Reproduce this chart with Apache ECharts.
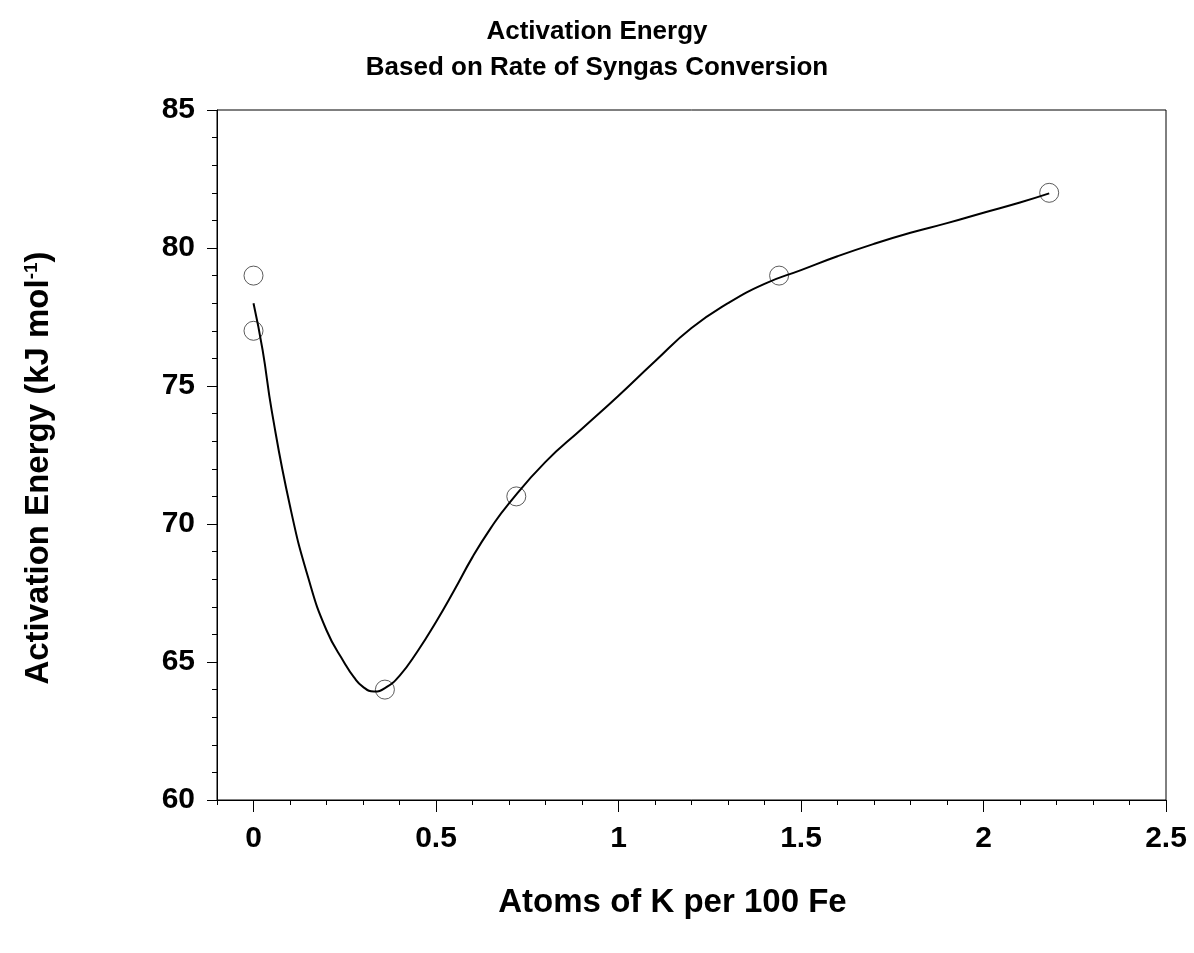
<!DOCTYPE html>
<html>
<head>
<meta charset="utf-8">
<title>Activation Energy</title>
<script src="https://cdn.jsdelivr.net/npm/echarts@6/dist/echarts.min.js"></script>
<style>
  html, body { margin: 0; background: #fff; }
  #main { width: 1194px; height: 953px; }
</style>
</head>
<body>
<div id="main"></div>
<script>
// measured points (open circles)
var pointX = [0, 0, 0.36, 0.72, 1.44, 2.18]
var pointY = [79, 77, 64, 71, 79, 82]

// fitted curve
var curveX = [0, 0.025, 0.05, 0.1, 0.15, 0.2, 0.25, 0.275, 0.3, 0.33, 0.36, 0.4, 0.45, 0.5, 0.55, 0.6, 0.65, 0.7, 0.8, 0.9, 1.0, 1.1, 1.2, 1.3, 1.4, 1.5, 1.6, 1.7, 1.8, 1.9, 2.0, 2.1, 2.18]
var curveY = [78.0, 76.3, 74.1, 70.65, 68.05, 66.15, 64.95, 64.45, 64.1, 63.93, 64.05, 64.5, 65.4, 66.45, 67.6, 68.8, 69.85, 70.75, 72.25, 73.45, 74.65, 75.9, 77.1, 78.0, 78.7, 79.2, 79.7, 80.15, 80.55, 80.9, 81.28, 81.65, 81.98]

// tick values
var xMajor = [0, 0.5, 1, 1.5, 2, 2.5]

var font = "'Liberation Sans', Arial, sans-serif"

var myChart = echarts.init(document.getElementById('main'))

var option = {
  backgroundColor: '#fff',
  animation: false,
  title: {
    text: 'Activation Energy\nBased on Rate of Syngas Conversion',
    left: 'center',
    top: 9,
    textStyle: {
      fontFamily: font,
      fontSize: 26,
      fontWeight: 'bold',
      color: '#000',
      lineHeight: 36
    }
  },
  grid: {
    left: 217,
    top: 110,
    right: 28,
    bottom: 153,
    show: true,
    borderColor: '#000',
    borderWidth: 1,
    backgroundColor: 'transparent'
  },
  xAxis: [
    {
      // labels + long ticks
      type: 'value',
      min: -0.1,
      max: 2.5,
      name: 'Atoms of K per 100 Fe',
      nameLocation: 'middle',
      nameGap: 86,
      nameTextStyle: { fontFamily: font, fontSize: 33, fontWeight: 'bold', color: '#000', padding: [0, 38, 0, 0] },
      axisLine: { show: true, onZero: false, lineStyle: { color: '#000', width: 1 } },
      axisTick: { show: true, inside: false, length: 12, customValues: xMajor, lineStyle: { color: '#000' } },
      axisLabel: { customValues: xMajor, margin: 24, fontFamily: font, fontSize: 30, fontWeight: 'bold', color: '#000' },
      splitLine: { show: false }
    },
    {
      // short ticks every 0.1
      type: 'value',
      min: -0.1,
      max: 2.5,
      interval: 0.1,
      position: 'bottom',
      axisLine: { show: false, onZero: false },
      axisTick: { show: true, length: 5, lineStyle: { color: '#000' } },
      axisLabel: { show: false },
      splitLine: { show: false }
    }
  ],
  yAxis: {
    type: 'value',
    min: 60,
    max: 85,
    interval: 5,
    name: 'Activation Energy (kJ mol{sup|-1})',
    nameLocation: 'middle',
    nameGap: 162,
    nameRotate: 90,
    nameTextStyle: {
      fontFamily: font,
      fontSize: 33,
      fontWeight: 'bold',
      color: '#000',
      padding: [0, 26, 0, 0],
      rich: {
        sup: { fontFamily: font, fontSize: 19, fontWeight: 'bold', color: '#000', verticalAlign: 'top', padding: [0, 0, 14, 0] }
      }
    },
    axisLine: { show: true, onZero: false, lineStyle: { color: '#000', width: 1 } },
    axisTick: { show: true, length: 10, lineStyle: { color: '#000' } },
    minorTick: { show: true, splitNumber: 5, length: 5, lineStyle: { color: '#000' } },
    axisLabel: { margin: 22, fontFamily: font, fontSize: 30, fontWeight: 'bold', color: '#000' },
    splitLine: { show: false }
  },
  series: [
    {
      name: 'fit',
      type: 'line',
      xAxisIndex: 0,
      smooth: 0.5,
      showSymbol: false,
      lineStyle: { color: '#000', width: 2 },
      data: curveX.map(function (x, i) { return [x, curveY[i]] })
    },
    {
      name: 'measured',
      type: 'scatter',
      xAxisIndex: 0,
      symbol: 'circle',
      symbolSize: 19,
      itemStyle: { color: 'rgba(0,0,0,0)', borderColor: '#333', borderWidth: 1 },
      data: pointX.map(function (x, i) { return [x, pointY[i]] })
    }
  ]
}

myChart.setOption(option)
</script>
</body>
</html>
